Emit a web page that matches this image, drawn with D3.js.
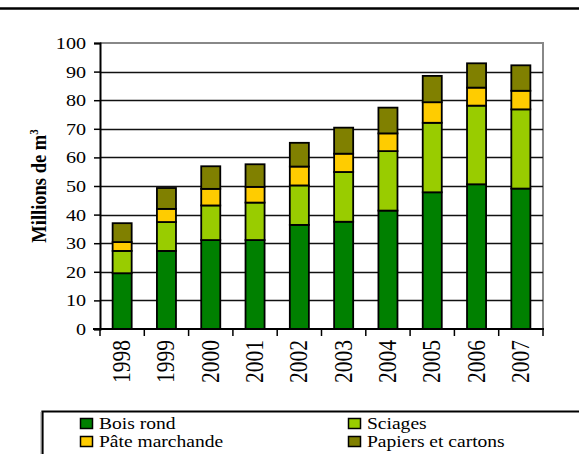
<!DOCTYPE html>
<html>
<head>
<meta charset="utf-8">
<script src="https://cdn.jsdelivr.net/npm/d3@7/dist/d3.min.js"></script>
<style>
  body { margin: 0; background: #fff; }
  svg { display: block; }
  text { font-family: "Liberation Serif", "Times New Roman", "DejaVu Serif", serif; fill: #000; }
</style>
</head>
<body>
<svg id="chart" width="579" height="454"></svg>
<script>
// Annual volumes, millions of m³
const years = ["1998", "1999", "2000", "2001", "2002", "2003", "2004", "2005", "2006", "2007"];
const boisRond = [19.5, 27.3, 31.1, 31.1, 36.4, 37.5, 41.4, 47.8, 50.6, 49.1];
const sciages = [7.8, 10.1, 12.1, 13.1, 13.8, 17.4, 20.8, 24.3, 27.5, 27.7];
const pateMarchande = [3.1, 4.6, 5.8, 5.5, 6.6, 6.4, 6.2, 7.2, 6.3, 6.5];
const papiersCartons = [6.6, 7.3, 7.9, 7.9, 8.3, 9.1, 9.0, 9.2, 8.5, 8.9];
const yTicks = [0, 10, 20, 30, 40, 50, 60, 70, 80, 90, 100];

const seriesNames = ["Bois rond", "Sciages", "Pâte marchande", "Papiers et cartons"];
const seriesKeys = ["bois", "sciages", "pate", "papiers"];
const colors = ["#008000", "#99CC00", "#FFCC00", "#808000"];

const rows = years.map((y, i) => ({
  year: y,
  bois: boisRond[i],
  sciages: sciages[i],
  pate: pateMarchande[i],
  papiers: papiersCartons[i]
}));

const svg = d3.select("#chart");
const plotLeft = 100, plotRight = 543, plotTop = 43, plotBottom = 329;
const stretch = 1.15; // text is set slightly wide

const x = d3.scaleBand().domain(years).range([plotLeft, plotRight]).paddingInner(0.57).paddingOuter(0.285);
const xb = d3.scaleBand().domain(years).range([plotLeft, plotRight]);
const y = d3.scaleLinear().domain([0, 100]).range([plotBottom, plotTop]);

// heading rule
svg.append("line").attr("x1", 0).attr("x2", 579).attr("y1", 8.5).attr("y2", 8.5)
  .attr("stroke", "#000").attr("stroke-width", 2.5);

// plot frame (top and right)
svg.append("path")
  .attr("d", `M${plotLeft},${plotTop}H${plotRight}V${plotBottom}`)
  .attr("fill", "none").attr("stroke", "#888").attr("stroke-width", 2);

// horizontal gridlines
svg.append("g").selectAll("line").data(yTicks.filter(t => t > 0 && t < 100)).join("line")
  .attr("x1", plotLeft).attr("x2", plotRight)
  .attr("y1", d => Math.round(y(d)) + 0.5).attr("y2", d => Math.round(y(d)) + 0.5)
  .attr("stroke", "#111").attr("stroke-width", 1.3);

// stacked bars
const stack = d3.stack().keys(seriesKeys)(rows);
svg.append("g").selectAll("g").data(stack).join("g")
  .attr("fill", (d, i) => colors[i])
  .selectAll("rect").data(d => d).join("rect")
  .attr("x", d => x(d.data.year))
  .attr("width", x.bandwidth())
  .attr("y", d => y(d[1]))
  .attr("height", d => y(d[0]) - y(d[1]))
  .attr("stroke", "#000").attr("stroke-width", 1.8);

// y axis line and ticks
const yAxis = d3.axisLeft(y).tickValues(yTicks).tickSize(6).tickFormat("");
const gy = svg.append("g").attr("transform", `translate(${plotLeft},0)`).call(yAxis);
gy.select(".domain").attr("stroke-width", 2);
gy.selectAll(".tick line").attr("stroke-width", 1.5).attr("x2", -6).attr("x1", 1);

// y tick labels
svg.append("g").selectAll("text").data(yTicks).join("text")
  .attr("transform", d => `translate(86,${y(d) + 6}) scale(${stretch},1)`)
  .attr("text-anchor", "end")
  .attr("font-size", 17.5)
  .text(d => d);

// x axis: ticks at category boundaries
const gx = svg.append("g").attr("transform", `translate(0,${plotBottom})`);
gx.append("line").attr("x1", plotLeft - 7).attr("x2", plotRight + 1).attr("y1", 0).attr("y2", 0)
  .attr("stroke", "#000").attr("stroke-width", 2);
const bounds = years.map(yr => xb(yr)).concat([plotRight]);
gx.selectAll("line.tk").data(bounds).join("line").attr("class", "tk")
  .attr("x1", d => d).attr("x2", d => d).attr("y1", 0).attr("y2", 7)
  .attr("stroke", "#000").attr("stroke-width", 1.5);
gx.selectAll("text").data(years).join("text")
  .attr("transform", d => `translate(${xb(d) + xb.bandwidth() / 2 + 8},11) scale(${stretch},1) rotate(-90)`)
  .attr("text-anchor", "end")
  .attr("font-size", 21.5)
  .text(d => d);

// y axis title
const yt = svg.append("text")
  .attr("transform", `translate(46,186) scale(${stretch},1) rotate(-90)`)
  .attr("text-anchor", "middle")
  .attr("font-size", 18.5).attr("font-weight", "bold");
yt.append("tspan").text("Millions de m");
yt.append("tspan").attr("dy", -7).attr("font-size", 11).text("3");

// legend box
svg.append("path").attr("d", "M42.5,460V411.5H590")
  .attr("fill", "none").attr("stroke", "#000").attr("stroke-width", 2.2);
svg.append("line").attr("x1", 41).attr("x2", 41).attr("y1", 412).attr("y2", 460)
  .attr("stroke", "#999").attr("stroke-width", 1);

const legendPos = [[80, 418], [348, 418], [80, 436], [348, 436]];
const lg = svg.append("g").selectAll("g").data(seriesNames).join("g")
  .attr("transform", (d, i) => `translate(${legendPos[i][0]},${legendPos[i][1]})`);
lg.append("rect").attr("x", 0.5).attr("y", 0.5).attr("width", 12).attr("height", 10)
  .attr("fill", (d, i) => colors[i]).attr("stroke", "#000").attr("stroke-width", 1.5);
lg.append("text").attr("transform", `translate(19,11) scale(${stretch},1)`)
  .attr("font-size", 17).text(d => d);
</script>
</body>
</html>
